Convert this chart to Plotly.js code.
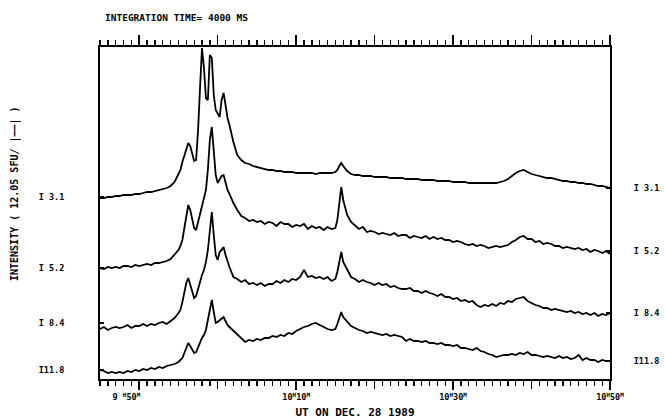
<!DOCTYPE html>
<html>
<head>
<meta charset="utf-8">
<script src="https://cdn.plot.ly/plotly-3.0.1.min.js"></script>
<style>
  html, body { margin: 0; padding: 0; background: #fff; }
  #chart { width: 665px; height: 419px; }
</style>
</head>
<body>
<div id="chart"></div>
<script>
// Time in minutes after 09:45 UT, 28 Dec 1989
const minutes = [
  0,0.5,1,1.5,2,2.5,3,3.5,4,4.5,5,5.5,6,6.5,7,7.5,8,8.5,9,9.5,10,
  10.25,10.5,10.75,11,11.25,11.5,11.75,12,12.25,12.5,12.75,13,13.25,13.5,13.75,14,
  14.25,14.5,14.75,15,15.25,15.5,15.75,16,16.25,16.5,16.75,17,
  17.5,18,18.5,19,19.5,20,20.5,21,21.5,22,22.5,23,23.5,24,24.5,25,25.5,26,26.5,27,27.5,28,28.5,29,29.5,30,
  30.25,30.5,30.75,31,
  31.5,32,32.5,33,33.5,34,34.5,35,35.5,36,36.5,
  37,37.5,38,38.5,39,39.5,40,40.5,41,41.5,42,42.5,
  43,43.5,44,44.5,45,45.5,46,46.5,47,47.5,48,48.5,
  49,49.5,50,50.5,
  51,51.5,52,52.5,53,53.5,54,
  54.5,55,55.5,56,56.5,57,57.5,58,58.5,59,59.5,60,60.5,
  61,61.5,62,62.5,63,63.5,64,64.5,65
];

// Stacked intensity records (offset display units), one per channel
const ch31 = [
  181,181,182,182,183,183,184,184,184,185,185,186,187,187,188,189,190,191,193,197,205,
  209,217,223,229,236,233,224,218,219,249,291,331,311,281,279,324,321,284,269,266,262,279,286,274,261,254,245,237,
  224,219,216,215,213,212,211,210,209,209,208,208,207,207,207,206,206,206,206,206,205,206,206,206,206,207,
  209,213,216,213,
  208,205,204,204,203,203,203,202,202,202,202,
  201,201,201,201,200,200,200,200,199,199,199,199,
  198,198,198,198,197,197,197,197,196,196,196,196,
  196,196,196,196,
  197,198,200,203,206,208,209,
  207,205,204,203,202,201,201,200,199,198,198,197,197,
  196,196,195,195,194,193,193,192,191
];

const ch52 = [
  111,110,112,111,112,111,113,113,112,114,113,114,115,114,116,116,117,118,120,124,129,
  133,139,151,164,174,169,159,151,149,157,164,171,179,189,209,239,252,229,204,196,199,203,204,196,189,185,180,176,
  169,163,161,158,159,157,158,155,157,156,153,157,155,155,152,154,153,155,150,153,151,152,149,152,150,151,
  159,174,192,179,
  164,157,153,150,152,147,148,147,145,146,145,
  144,146,143,144,144,141,143,142,141,143,140,142,
  140,141,139,139,137,138,137,135,134,135,133,134,
  133,131,132,133,
  132,133,134,137,139,142,143,
  140,140,137,138,135,136,135,133,133,131,132,131,130,
  131,129,130,127,129,128,126,128,125
];

const ch84 = [
  50,52,49,51,52,51,52,54,51,53,53,55,53,55,54,56,57,55,58,61,66,
  69,77,87,96,101,95,87,81,83,91,97,104,109,117,129,149,167,144,124,119,127,129,132,124,117,112,107,102,
  100,97,99,95,96,94,96,93,95,95,98,96,99,97,100,99,102,109,102,103,101,102,100,102,98,100,
  107,117,127,117,
  109,102,100,97,99,97,96,94,96,94,95,
  92,93,91,90,90,91,88,88,86,88,86,85,
  83,85,82,82,80,81,78,79,77,78,74,72,
  74,73,75,73,
  76,75,78,77,80,81,82,
  78,76,74,73,71,71,69,70,69,68,67,68,66,
  67,65,66,64,66,63,65,64,66
];

const ch118 = [
  9,8,6,7,6,7,6,8,7,9,8,10,9,11,10,12,11,13,14,15,17,
  19,21,26,31,36,33,29,26,27,32,38,41,44,49,59,71,79,67,56,57,59,60,62,58,54,52,50,48,
  44,40,37,39,38,40,39,41,41,43,42,44,43,46,45,48,50,52,53,55,56,54,52,50,49,50,
  55,62,67,62,
  57,53,51,49,48,46,47,46,45,44,45,
  43,44,43,42,38,40,38,38,37,38,36,36,
  35,36,34,34,33,34,31,31,30,29,31,28,
  27,25,24,22,
  23,24,24,25,24,26,25,
  27,24,24,23,22,23,22,21,23,21,22,20,21,
  24,19,21,19,19,17,19,18,18
];

// Axis labels
const NB = '\u00a0';
const labelTimes = [5, 25, 45, 65];
const labelText = ['9 <sup>H</sup>50<sup>M</sup>' + NB.repeat(5), '10<sup>H</sup>10<sup>M</sup>',
                   '10<sup>H</sup>30<sup>M</sup>', '10<sup>H</sup>50<sup>M</sup>'];
const tenMinuteTicks = [5, 15, 25, 35, 45, 55, 65];
const unlabelledTicks = [15, 35, 55];
const leftLevels = [182, 111, 56, 9];
const rightLevels = [191, 128, 66, 18];
const channelLabels = ['I 3.1', 'I 5.2', 'I 8.4', 'I11.8'];

const MONO = 'DejaVu Sans Mono, monospace';
const INK = '#000';

const series = [ch31, ch52, ch84, ch118];
const traces = series.map(vals => ({
  type: 'scatter', mode: 'lines',
  x: minutes, y: vals,
  line: { color: INK, width: 1.8 },
  hoverinfo: 'skip', showlegend: false
}));

// invisible carriers so the frame axes (top, right, extra bottom ticks) are drawn
const carrier = (xa, ya) => ({
  type: 'scatter', mode: 'lines', x: [0, 65], y: [0, 0],
  xaxis: xa, yaxis: ya, line: { width: 0, color: 'rgba(0,0,0,0)' },
  hoverinfo: 'skip', showlegend: false
});
traces.push(carrier('x2', 'y2'));
traces.push(carrier('x3', 'y'));

const tickFont = { family: MONO, size: 8.5, color: INK, weight: 'bold' };

const minorTicks = { tickmode: 'linear', tick0: 0, dtick: 1, ticks: 'outside', ticklen: 5, tickwidth: 1.3, tickcolor: INK };

const layout = {
  width: 665, height: 419,
  margin: { l: 100, r: 55, t: 47, b: 40, pad: 0 },
  paper_bgcolor: '#fff', plot_bgcolor: '#fff',
  font: { family: MONO, color: INK },
  title: {
    text: 'INTEGRATION TIME= 4000 MS',
    font: { family: MONO, size: 9.5, color: INK, weight: 'bold' },
    x: 105 / 665, xanchor: 'left', xref: 'container',
    y: 1 - 18 / 419, yanchor: 'middle', yref: 'container'
  },
  xaxis: {
    range: [0, 65],
    showgrid: false, zeroline: false,
    showline: true, linecolor: INK, linewidth: 2,
    ticks: 'outside', ticklen: 9, tickwidth: 1.5, tickcolor: INK,
    tickmode: 'array', tickvals: labelTimes, ticktext: labelText,
    tickfont: tickFont, minor: minorTicks,
    title: { text: 'UT ON DEC. 28 1989', font: { family: MONO, size: 11, color: INK, weight: 'bold' }, standoff: 8 }
  },
  xaxis3: {
    range: [0, 65], overlaying: 'x', side: 'bottom', matches: 'x', anchor: 'y',
    showgrid: false, zeroline: false, showline: false,
    ticks: 'outside', ticklen: 9, tickwidth: 1.5, tickcolor: INK,
    tickmode: 'array', tickvals: unlabelledTicks, showticklabels: false
  },
  xaxis2: {
    range: [0, 65], overlaying: 'x', side: 'top', matches: 'x',
    showgrid: false, zeroline: false,
    showline: true, linecolor: INK, linewidth: 2,
    ticks: 'outside', ticklen: 10, tickwidth: 1.5, tickcolor: INK,
    tickmode: 'array', tickvals: tenMinuteTicks, showticklabels: false,
    minor: minorTicks
  },
  yaxis: {
    range: [0, 332],
    showgrid: false, zeroline: false,
    showline: true, linecolor: INK, linewidth: 2,
    ticks: 'inside', ticklen: 4, tickwidth: 1.5, tickcolor: INK,
    tickmode: 'array', tickvals: leftLevels, ticktext: channelLabels,
    tickfont: tickFont, ticklabelstandoff: 32
  },
  yaxis2: {
    range: [0, 332], overlaying: 'y', side: 'right', matches: 'y',
    showgrid: false, zeroline: false,
    showline: true, linecolor: INK, linewidth: 2,
    ticks: 'inside', ticklen: 4, tickwidth: 1.5, tickcolor: INK,
    tickmode: 'array', tickvals: rightLevels, ticktext: channelLabels,
    tickfont: tickFont, ticklabelstandoff: 20
  },
  annotations: [{
    // intensity scale label, set left of the channel labels
    text: 'INTENSITY ( 12.05 SFU/ |——| )',
    xref: 'paper', x: 0, xshift: -85, xanchor: 'center',
    yref: 'paper', y: 185 / 332, yanchor: 'middle',
    textangle: -90, showarrow: false,
    font: { family: MONO, size: 10, color: INK, weight: 'bold' }
  }]
};

Plotly.newPlot('chart', traces, layout, { staticPlot: true, displayModeBar: false });
</script>
</body>
</html>
